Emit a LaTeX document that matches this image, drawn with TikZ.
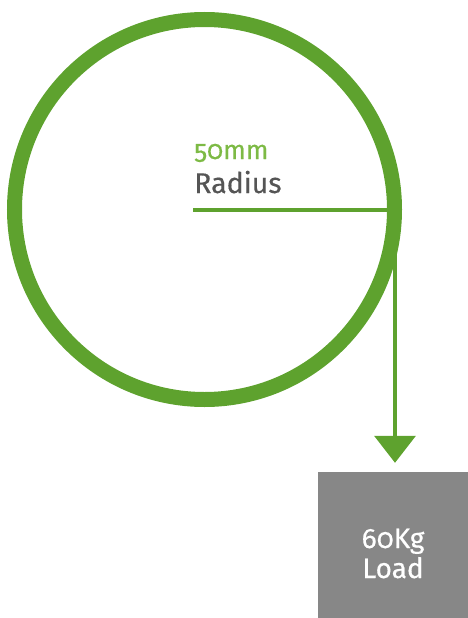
\documentclass[tikz,border=0pt]{standalone}
\usepackage{fontspec}
\setmainfont[Numbers=OldStyle,FakeBold=0.4]{Fira Sans}
\usetikzlibrary{arrows.meta}
\definecolor{wheelgreen}{HTML}{5EA22E}
\definecolor{labelgreen}{HTML}{7DBA45}
\definecolor{labelgray}{HTML}{555555}
\definecolor{loadgray}{HTML}{878787}
\begin{document}
\begin{tikzpicture}[x=1pt, y=-1pt]
		\tikzset{>={Triangle[width=41pt,length=27pt]}}
		\tikzset{loadbox/.style={fill=loadgray, minimum width=150pt, minimum height=146pt, inner sep=0pt}}
		\tikzset{loadtext/.style={text=white, align=center, inner sep=0pt, font=\fontsize{28}{30}\selectfont}}
		\useasboundingbox (0,0) rectangle (468,618);
		\def\rad{190}
		\coordinate (c) at (204.5,209.5);
		\draw [wheelgreen, line width=15pt] (c) circle (\rad);
		\coordinate (rim) at (387,209.5);
		\coordinate (start) at (193,209.5);
		\draw [wheelgreen, line width=4pt] (start) -- (rim);
		\node [anchor=base west, inner sep=0pt, text=labelgreen, font=\fontsize{26.5}{26.5}\selectfont] (size) at (194,159) {50mm};
		\node [anchor=base west, inner sep=0pt, text=labelgray, font=\fontsize{28.5}{28.5}\selectfont] (word) at (194,193) {Radius};
		\node [loadbox] (load) at (393,545) {};
		\node [loadtext, anchor=base] (mass) at (393,578) {60Kg\\Load};
		\coordinate (tangent) at (395,212);
		\draw [->, wheelgreen, line width=3.5pt, shorten >=9pt] (tangent) -- (tangent |- load.north);
	\end{tikzpicture}
\end{document}
